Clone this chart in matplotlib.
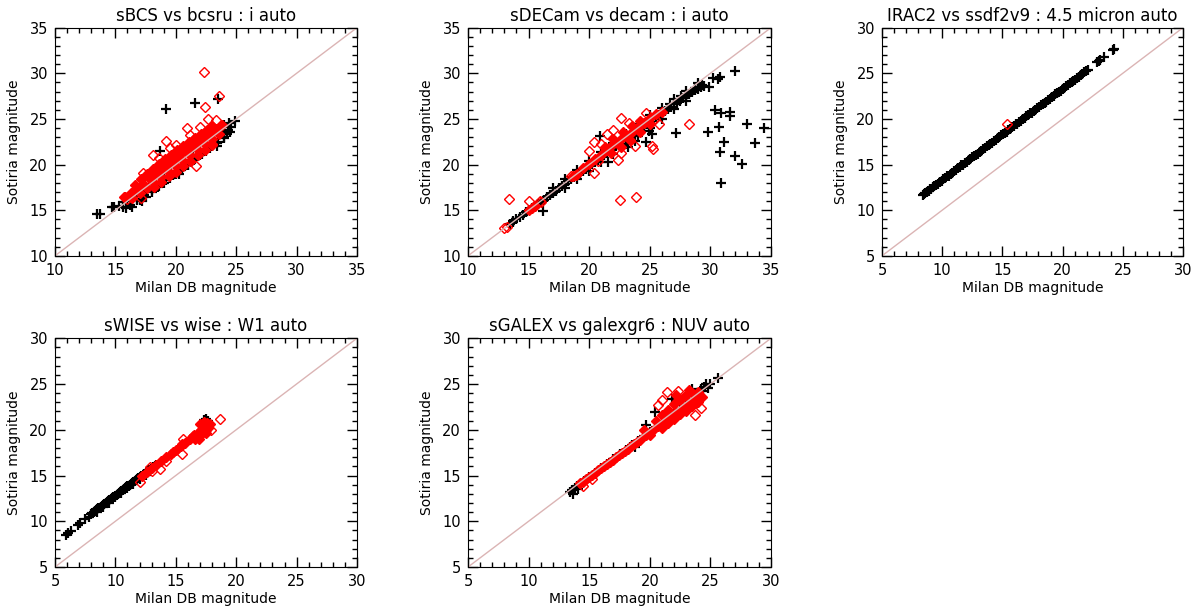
import matplotlib
matplotlib.use("Agg")
import matplotlib.pyplot as plt
from matplotlib.ticker import MultipleLocator

plt.rcParams['font.family'] = ['DejaVu Sans']

# ---- panel titles / axis ranges
titles = ["sBCS vs bcsru : i auto", "sDECam vs decam : i auto",
          "IRAC2 vs ssdf2v9 : 4.5 micron auto", "sWISE vs wise : W1 auto",
          "sGALEX vs galexgr6 : NUV auto"]
limits = [(10, 35), (10, 35), (5, 30), (5, 30), (5, 30)]

# ---- sBCS vs bcsru   (b = black crosses, r = red diamonds, c = dense red core)
bcs_bx = [13.5, 13.7, 14.7, 14.9, 15.3, 15.6, 16.0, 16.2, 16.5, 16.8,
          17.1, 17.4, 17.8, 18.0, 18.4, 18.6, 19.0, 19.2, 19.6, 19.8,
          20.2, 20.4, 20.8, 21.0, 21.4, 21.6, 22.0, 22.2, 22.6, 22.8,
          23.2, 23.4, 23.8, 24.0, 24.3, 24.5, 23.5, 24.0, 24.4, 19.2,
          21.6, 23.5, 24.9, 18.7, 20.3, 18.4, 16.8, 23.4, 15.6, 17.2,
          17.0, 17.5, 18.0, 18.5, 19.0, 19.5, 20.0, 20.5, 21.0, 21.5,
          22.0, 22.5, 23.0, 23.5, 24.0, 24.6, 24.2, 23.9, 15.9, 16.4]
bcs_by = [14.6, 14.6, 15.4, 15.3, 15.5, 15.3, 16.0, 15.6, 16.4, 16.2,
          16.8, 16.7, 17.5, 17.2, 18.0, 17.7, 18.6, 18.3, 19.1, 18.9,
          19.7, 19.4, 20.3, 20.0, 20.9, 20.6, 21.5, 21.2, 22.1, 21.8,
          22.7, 22.4, 23.3, 22.9, 23.8, 23.6, 23.9, 24.3, 24.6, 26.1,
          26.8, 27.2, 24.8, 21.5, 19.0, 17.6, 16.1, 22.0, 15.9, 16.0,
          16.1, 16.5, 17.0, 17.5, 18.0, 18.5, 19.0, 19.5, 20.0, 20.5,
          21.0, 21.5, 22.0, 22.5, 23.0, 24.1, 23.4, 23.7, 15.2, 15.4]
bcs_rx = [22.3, 23.6, 22.4, 22.7, 20.9, 19.2, 18.1, 21.7, 17.3, 15.7,
          16.0, 16.3, 17.1, 20.0, 21.2, 22.0, 23.3, 23.0, 19.5, 18.6]
bcs_ry = [30.1, 27.5, 26.3, 25.0, 24.0, 22.6, 21.1, 19.8, 19.1, 16.5,
          16.2, 16.5, 16.3, 22.1, 23.2, 24.1, 24.9, 22.1, 21.8, 20.7]
bcs_cx = [16.6, 17.1, 17.6, 18.1, 18.6, 19.1, 19.6, 20.1, 20.6, 21.1,
          21.6, 22.1, 22.6, 23.0, 15.8, 16.3, 16.8, 17.3, 17.8, 18.3,
          18.8, 19.3, 19.8, 20.3, 20.8, 21.3, 21.8, 22.3, 22.8, 23.3,
          23.8, 16.4, 17.0, 17.6, 18.2, 18.8, 19.4, 20.0, 20.6, 21.2,
          21.8, 22.4, 23.0, 23.6, 18.2, 18.8, 19.4, 20.0, 20.6, 21.2,
          21.8, 22.4, 23.0, 19.0, 20.0, 21.0, 22.0, 17.8, 19.7, 21.5]
bcs_cy = [17.8, 18.4, 19.0, 19.5, 20.1, 20.6, 21.1, 21.6, 22.0, 22.5,
          22.9, 23.4, 23.8, 24.2, 16.4, 16.9, 17.4, 17.9, 18.5, 19.0,
          19.5, 20.0, 20.5, 21.0, 21.5, 22.0, 22.5, 23.0, 23.5, 23.9,
          24.3, 16.3, 16.9, 17.4, 18.0, 18.6, 19.2, 19.8, 20.4, 21.0,
          21.6, 22.2, 22.8, 23.3, 17.5, 18.1, 18.7, 19.2, 19.8, 20.4,
          21.0, 21.6, 22.2, 20.2, 21.2, 22.1, 23.1, 18.7, 20.8, 22.8]

# ---- sDECam vs decam
dec_bx = [13.5, 14.0, 14.5, 15.0, 15.5, 16.0, 16.5, 17.0, 17.5, 18.0,
          18.5, 19.0, 19.5, 20.0, 20.5, 21.0, 21.5, 22.0, 22.5, 23.0,
          23.5, 24.0, 24.5, 25.0, 25.5, 26.0, 26.5, 27.0, 27.5, 28.0,
          28.5, 29.0, 29.5, 17.0, 18.0, 19.0, 20.0, 21.0, 22.0, 23.0,
          24.0, 25.0, 26.0, 27.0, 28.0, 29.0, 18.0, 19.0, 20.0, 21.0,
          22.0, 23.0, 24.0, 25.0, 26.0, 27.0, 28.0, 30.2, 30.8, 30.4,
          30.9, 31.6, 31.6, 30.7, 29.8, 27.2, 33.0, 34.4, 33.7, 31.1,
          30.8, 32.0, 32.6, 30.85, 25.2, 24.7, 21.55, 16.2, 13.7, 20.9,
          32.0, 29.3, 29.9, 30.6, 26.7, 27.6, 28.7, 23.8, 24.9, 23.2,
          13.75, 14.25, 14.75, 15.25, 15.75, 16.25, 16.75, 17.25, 17.75, 18.25,
          18.75, 19.25, 19.75, 20.25, 20.75, 21.25, 21.75, 22.25, 22.75, 23.25,
          23.75, 24.25, 24.75, 25.25, 25.75, 26.25, 26.75, 27.25, 27.75, 28.25,
          28.75, 29.25]
dec_by = [13.5, 14.0, 14.5, 15.0, 15.4, 15.9, 16.4, 16.9, 17.4, 17.9,
          18.4, 18.9, 19.3, 19.8, 20.3, 20.8, 21.3, 21.8, 22.3, 22.8,
          23.3, 23.8, 24.2, 24.7, 25.2, 25.6, 26.1, 26.6, 27.0, 27.5,
          28.0, 28.3, 28.6, 17.4, 18.4, 19.4, 20.4, 21.4, 22.4, 23.4,
          24.5, 25.4, 26.2, 27.2, 28.1, 28.9, 17.4, 18.4, 19.3, 20.3,
          21.2, 22.2, 23.1, 24.0, 25.0, 26.1, 27.0, 29.5, 29.6, 26.0,
          25.6, 25.8, 25.3, 24.1, 23.6, 23.5, 24.5, 24.0, 22.4, 22.5,
          21.4, 20.9, 20.05, 18.0, 23.3, 22.5, 20.3, 14.9, 13.8, 23.1,
          30.2, 28.7, 28.5, 29.4, 26.6, 27.5, 28.4, 22.6, 23.7, 21.9,
          13.75, 14.25, 14.75, 15.2, 15.65, 16.15, 16.65, 17.15, 17.65, 18.15,
          18.65, 19.1, 19.55, 20.05, 20.55, 21.05, 21.55, 22.05, 22.55, 23.05,
          23.55, 24.0, 24.45, 24.95, 25.4, 25.85, 26.35, 26.8, 27.25, 27.75,
          28.15, 28.45]
dec_rx = [13.4, 15.0, 13.0, 13.2, 15.9, 22.5, 23.9, 20.4, 22.35, 19.98,
          20.4, 22.0, 22.6, 23.8, 25.2, 25.3, 25.8, 28.2, 18.5, 18.9,
          21.5, 21.0, 24.5, 24.7, 25.4, 15.3, 16.0, 20.7, 22.6, 23.3]
dec_ry = [16.25, 16.0, 13.0, 13.2, 16.0, 16.1, 16.4, 19.1, 20.45, 21.45,
          22.5, 23.8, 25.1, 22.0, 22.0, 21.7, 24.4, 24.4, 18.7, 18.9,
          23.3, 22.2, 24.6, 25.7, 25.0, 15.2, 15.9, 20.4, 21.3, 24.6]
dec_cx = [19.0, 19.5, 20.0, 20.5, 21.0, 21.5, 22.0, 22.5, 23.0, 23.5,
          24.0, 24.5, 25.0, 25.5, 26.0, 21.3, 22.0, 22.8, 23.5, 24.2,
          21.8, 22.6, 23.4, 24.2, 25.0, 15.0, 15.5, 18.7]
dec_cy = [19.0, 19.6, 20.1, 20.6, 21.1, 21.6, 22.2, 22.7, 23.2, 23.6,
          24.1, 24.6, 25.1, 25.5, 25.8, 21.9, 22.8, 23.6, 24.2, 24.8,
          21.3, 21.9, 22.7, 23.6, 24.5, 15.0, 15.5, 18.8]

# ---- IRAC2 vs ssdf2v9
irac_bx = [8.4, 8.6, 8.8, 9.0, 9.2, 9.5, 9.8, 10.1, 10.4, 10.7,
           11.0, 11.3, 11.6, 11.9, 12.2, 12.5, 12.8, 13.1, 13.4, 13.7,
           14.0, 14.3, 14.6, 14.9, 15.2, 15.5, 15.8, 16.1, 16.4, 16.7,
           17.0, 17.3, 17.6, 17.9, 18.2, 18.5, 18.8, 19.1, 19.4, 19.7,
           20.0, 20.3, 20.6, 20.9, 21.2, 21.5, 21.8, 22.1, 22.9, 23.0,
           23.1, 23.4, 24.2, 24.3,
           8.5, 8.7, 8.9, 9.1, 9.35, 9.65, 9.95, 10.25, 10.55, 10.85,
           11.15, 11.45, 11.75, 12.05, 12.35, 12.65, 12.95, 13.25, 13.55, 13.85,
           14.15, 14.45, 14.75, 15.05, 15.35, 15.65, 15.95, 16.25, 16.55, 16.85,
           17.15, 17.45, 17.75, 18.05, 18.35, 18.65, 18.95, 19.25, 19.55, 19.85,
           20.15, 20.45, 20.75, 21.05, 21.35, 21.65, 21.95]
irac_by = [11.7, 11.9, 12.1, 12.3, 12.5, 12.8, 13.1, 13.4, 13.7, 14.0,
           14.3, 14.6, 14.9, 15.2, 15.5, 15.8, 16.1, 16.4, 16.7, 17.0,
           17.3, 17.6, 17.9, 18.2, 18.5, 18.8, 19.1, 19.4, 19.7, 20.0,
           20.3, 20.6, 20.9, 21.2, 21.5, 21.8, 22.1, 22.4, 22.7, 23.0,
           23.3, 23.6, 23.9, 24.2, 24.5, 24.8, 25.1, 25.4, 26.2, 26.3,
           26.5, 26.8, 27.6, 27.7,
           11.75, 11.95, 12.15, 12.35, 12.6, 12.9, 13.2, 13.5, 13.8, 14.1,
           14.4, 14.7, 15.0, 15.3, 15.6, 15.9, 16.2, 16.5, 16.8, 17.1,
           17.4, 17.7, 18.0, 18.3, 18.6, 18.9, 19.2, 19.5, 19.8, 20.1,
           20.4, 20.7, 21.0, 21.3, 21.6, 21.9, 22.2, 22.5, 22.8, 23.1,
           23.4, 23.7, 24.0, 24.3, 24.6, 24.9, 25.2]
irac_rx = [15.4]
irac_ry = [19.4]
irac_cx = []
irac_cy = []

# ---- sWISE vs wise
wise_bx = [5.9, 6.1, 6.3, 6.9, 7.1, 7.5, 7.8, 8.0, 8.2, 8.4,
           8.6, 8.8, 9.0, 9.2, 9.4, 9.6, 9.8, 10.0, 10.2, 10.4,
           10.6, 10.8, 11.0, 11.2, 11.4, 11.6, 11.8, 12.0, 12.2, 12.5,
           12.8, 13.1, 13.4, 17.3, 17.5, 17.7, 9.0, 10.0, 11.0, 12.0,
           8.1, 8.3, 8.5, 8.7, 8.9, 9.1, 9.3, 9.5, 9.7, 9.9,
           10.1, 10.3, 10.5, 10.7, 10.9, 11.1, 11.3, 11.5, 11.7, 11.9,
           12.1, 12.35, 12.65, 12.95, 13.25, 8.5, 9.5, 10.5, 11.5, 12.5]
wise_by = [8.5, 8.7, 8.9, 9.6, 9.8, 10.2, 10.5, 10.8, 11.0, 11.2,
           11.4, 11.6, 11.8, 12.0, 12.2, 12.4, 12.6, 12.8, 13.0, 13.2,
           13.4, 13.6, 13.8, 14.0, 14.2, 14.4, 14.6, 14.8, 15.0, 15.3,
           15.6, 15.9, 16.2, 21.1, 21.2, 21.0, 11.6, 12.6, 13.6, 14.6,
           10.9, 11.1, 11.3, 11.5, 11.7, 11.9, 12.1, 12.3, 12.5, 12.7,
           12.9, 13.1, 13.3, 13.5, 13.7, 13.9, 14.1, 14.3, 14.5, 14.7,
           14.9, 15.15, 15.45, 15.75, 16.05, 11.05, 12.05, 13.05, 14.05, 15.05]
wise_rx = [18.66, 15.5, 13.7, 12.0, 12.9, 13.0, 14.2, 15.6, 16.4, 17.9]
wise_ry = [21.2, 17.3, 15.7, 14.3, 15.95, 15.5, 16.6, 19.0, 19.3, 20.0]
wise_cx = [12.2, 12.6, 13.0, 13.4, 13.8, 14.2, 14.6, 15.0, 15.4, 15.8,
           16.2, 16.5, 16.8, 17.1, 17.4, 17.6, 16.6, 16.9, 17.2, 17.5,
           17.7, 17.3, 17.0, 17.5, 16.9, 17.8, 15.5, 14.8, 17.1]
wise_cy = [15.0, 15.4, 15.8, 16.2, 16.6, 17.0, 17.4, 17.8, 18.2, 18.6,
           19.0, 19.4, 19.7, 20.0, 20.3, 20.7, 19.0, 19.3, 19.7, 20.0,
           20.2, 20.8, 20.6, 19.7, 19.0, 20.6, 18.4, 17.6, 19.5]

# ---- sGALEX vs galexgr6
gal_bx = [13.4, 13.6, 13.8, 14.0, 14.3, 14.6, 15.0, 15.5, 16.0, 16.5,
          17.0, 17.5, 18.0, 18.5, 19.0, 19.5, 20.0, 20.5, 21.0, 21.5,
          22.0, 22.5, 23.0, 23.5, 24.0, 24.4, 24.8, 25.65, 20.4, 21.8,
          23.5, 18.4, 19.7, 18.8, 24.2, 24.6, 13.7, 14.1, 25.0, 24.5]
gal_by = [13.2, 13.4, 13.6, 13.8, 14.1, 14.4, 14.8, 15.3, 15.8, 16.3,
          16.8, 17.3, 17.8, 18.3, 18.8, 19.3, 19.8, 20.3, 20.8, 21.3,
          21.8, 22.3, 22.8, 23.3, 23.8, 24.2, 24.6, 25.7, 21.95, 23.4,
          24.5, 18.1, 20.5, 18.1, 24.4, 25.0, 13.0, 13.5, 25.0, 24.7]
gal_rx = [14.5, 23.7, 21.4, 22.3, 24.0, 19.8, 20.7, 15.2, 24.2, 21.0]
gal_ry = [13.8, 21.6, 24.1, 24.2, 23.2, 19.6, 22.7, 14.6, 22.4, 23.3]
gal_cx = [14.2, 14.7, 15.2, 15.7, 16.2, 16.7, 17.2, 17.7, 18.2, 18.7,
          19.2, 19.7, 20.2, 20.7, 21.2, 21.7, 22.2, 22.7, 23.2, 23.7,
          20.5, 21.0, 21.5, 22.0, 22.5, 23.0, 23.5, 24.0, 21.0, 21.5,
          22.0, 22.5, 23.0, 23.5, 24.0, 24.3, 19.5, 20.0, 22.2, 23.2,
          14.45, 14.95, 15.45, 15.95, 16.45, 16.95, 17.45, 17.95, 18.45, 18.95]
gal_cy = [14.2, 14.6, 15.1, 15.6, 16.0, 16.5, 17.0, 17.5, 17.9, 18.4,
          18.9, 19.4, 19.9, 20.4, 20.9, 21.4, 21.9, 22.4, 22.9, 23.4,
          21.0, 21.6, 22.2, 22.8, 23.3, 23.8, 24.0, 24.1, 20.2, 20.7,
          21.2, 21.7, 22.1, 22.6, 23.0, 23.6, 20.0, 19.4, 23.8, 24.3,
          14.3, 14.8, 15.3, 15.8, 16.3, 16.7, 17.2, 17.7, 18.2, 18.7]

panels = [
    (bcs_bx, bcs_by, bcs_rx, bcs_ry, bcs_cx, bcs_cy),
    (dec_bx, dec_by, dec_rx, dec_ry, dec_cx, dec_cy),
    (irac_bx, irac_by, irac_rx, irac_ry, irac_cx, irac_cy),
    (wise_bx, wise_by, wise_rx, wise_ry, wise_cx, wise_cy),
    (gal_bx, gal_by, gal_rx, gal_ry, gal_cx, gal_cy),
]

# axes boxes in figure fractions (left, bottom, width, height)
boxes = [(0.0458, 0.584, 0.2517, 0.371),
         (0.390, 0.584, 0.2525, 0.371),
         (0.735, 0.584, 0.2508, 0.371),
         (0.0458, 0.078, 0.2517, 0.372),
         (0.390, 0.078, 0.2525, 0.372)]

fig = plt.figure(figsize=(12, 6.15), dpi=100)

for i in range(5):
    bx, by, rx, ry, cx, cy = panels[i]
    lo, hi = limits[i]
    ax = fig.add_axes(boxes[i])
    ax.plot(bx, by, '+', color='black', ms=7, mew=1.6, ls='none')
    if len(cx) > 0:
        ax.plot(cx, cy, 'D', mfc='red', mec='red', ms=5.3, mew=1, ls='none')
    ax.plot(rx, ry, 'D', mfc='none', mec='red', ms=4.6, mew=1, ls='none')
    ax.plot([lo, hi], [lo, hi], color='#dbb4b4', lw=1)
    ax.set_xlim(lo, hi)
    ax.set_ylim(lo, hi)
    ax.xaxis.set_major_locator(MultipleLocator(5))
    ax.yaxis.set_major_locator(MultipleLocator(5))
    ax.xaxis.set_minor_locator(MultipleLocator(1))
    ax.yaxis.set_minor_locator(MultipleLocator(1))
    ax.tick_params(which='both', direction='in', top=True, right=True,
                   labelsize=10.5, width=1)
    ax.tick_params(which='major', length=7, pad=5)
    ax.tick_params(which='minor', length=3.5)
    ax.set_xlabel('Milan DB magnitude', fontsize=10, labelpad=2)
    ax.set_ylabel('Sotiria magnitude', fontsize=10, labelpad=6)
    ax.set_title(titles[i], fontsize=12, pad=5)

fig.savefig('out.png', dpi=100)
